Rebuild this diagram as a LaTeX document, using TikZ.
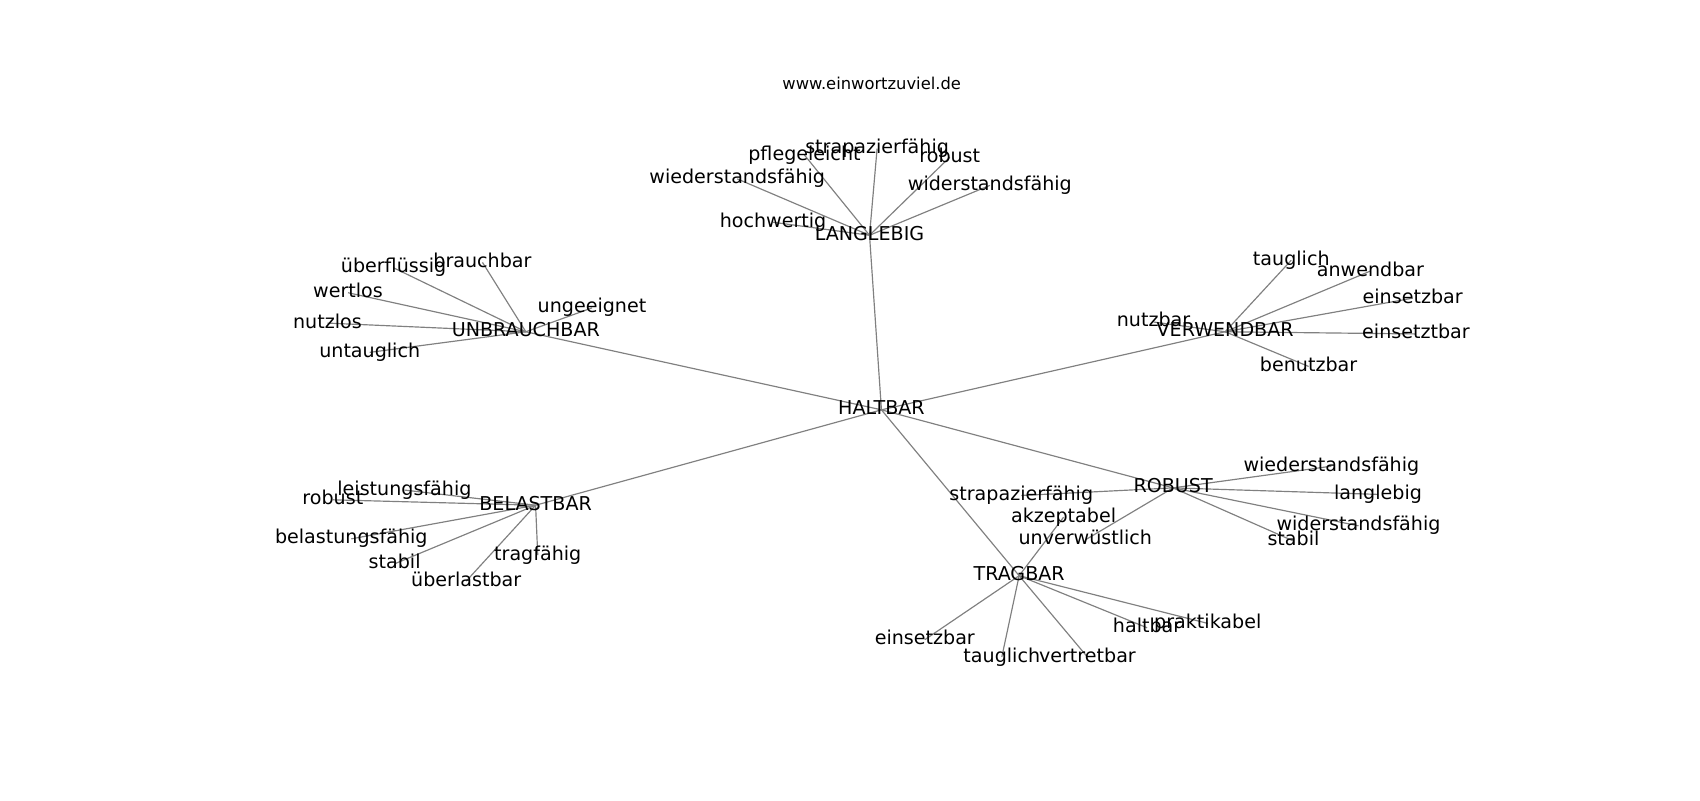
\documentclass[tikz,border=0pt]{standalone}
\usepackage{fontspec}
\setmainfont{DejaVu Sans}
\usetikzlibrary{backgrounds}

\begin{document}
\begin{tikzpicture}[x=0.27538mm,y=-0.27538mm,
	word/.style={inner sep=0pt,text height=0.76em,text depth=0.04em,font=\fontsize{13.8}{16}\selectfont},
	link/.style={black!50,line width=0.85pt}]
	\useasboundingbox (0,0) rectangle (1568,738);
	\node (title) at (804,77) [inner sep=0pt,font=\fontsize{11.8}{14}\selectfont] {www.einwortzuviel.de};
	% centre and hubs
	\node (haltbar) at (813,378) [word] {HALTBAR};
	\node (langlebig) at (802,217) [word] {LANGLEBIG};
	\node (unbrauchbar) at (485,306) [word] {UNBRAUCHBAR};
	\node (verwendbar) at (1130,306) [word] {VERWENDBAR};
	\node (belastbar) at (494,466) [word] {BELASTBAR};
	\node (robust) at (1082,450) [word] {ROBUST};
	\node (tragbar) at (940,531) [word] {TRAGBAR};
	% LANGLEBIG
	\node (la1) at (742,143) [word] {pflegeleicht};
	\node (la2) at (809,137) [word] {strapazierfähig};
	\node (la3) at (876,145) [word] {robust};
	\node (la4) at (680,165) [word] {wiederstandsfähig};
	\node (la5) at (913,171) [word] {widerstandsfähig};
	\node (la6) at (713,205) [word] {hochwertig};
	% UNBRAUCHBAR
	\node (un1) at (363,247) [word] {überflüssig};
	\node (un2) at (445,242) [word] {brauchbar};
	\node (un3) at (321,270) [word] {wertlos};
	\node (un4) at (302,298) [word] {nutzlos};
	\node (un5) at (341,325) [word] {untauglich};
	\node (un6) at (546,284) [word] {ungeeignet};
	% VERWENDBAR
	\node (ve1) at (1191,240) [word] {tauglich};
	\node (ve2) at (1264,250) [word] {anwendbar};
	\node (ve3) at (1303,275) [word] {einsetzbar};
	\node (ve4) at (1306,308) [word] {einsetztbar};
	\node (ve5) at (1207,338) [word] {benutzbar};
	\node (ve6) at (1064,297) [word] {nutzbar};
	% BELASTBAR
	\node (be1) at (373,452) [word] {leistungsfähig};
	\node (be2) at (307,461) [word] {robust};
	\node (be3) at (324,497) [word] {belastungsfähig};
	\node (be4) at (364,520) [word] {stabil};
	\node (be5) at (430,536) [word] {überlastbar};
	\node (be6) at (496,512) [word] {tragfähig};
	% ROBUST
	\node (ro1) at (1228,430) [word] {wiederstandsfähig};
	\node (ro2) at (1271,456) [word] {langlebig};
	\node (ro3) at (1253,485) [word] {widerstandsfähig};
	\node (ro4) at (1193,499) [word] {stabil};
	\node (ro5) at (942,457) [word] {strapazierfähig};
	\node (ro6) at (1001,498) [word] {unverwüstlich};
	% TRAGBAR
	\node (tr1) at (981,477) [word] {akzeptabel};
	\node (tr2) at (853,590) [word] {einsetzbar};
	\node (tr3) at (924,606) [word] {tauglich};
	\node (tr4) at (1003,606) [word] {vertretbar};
	\node (tr5) at (1058,579) [word] {haltbar};
	\node (tr6) at (1114,575) [word] {praktikabel};
	\begin{scope}[on background layer]
	\draw[link] (haltbar.center) -- (langlebig.center);
	\draw[link] (haltbar.center) -- (unbrauchbar.center);
	\draw[link] (haltbar.center) -- (verwendbar.center);
	\draw[link] (haltbar.center) -- (belastbar.center);
	\draw[link] (haltbar.center) -- (robust.center);
	\draw[link] (haltbar.center) -- (tragbar.center);
	\draw[link] (langlebig.center) -- (la1.center);
	\draw[link] (langlebig.center) -- (la2.center);
	\draw[link] (langlebig.center) -- (la3.center);
	\draw[link] (langlebig.center) -- (la4.center);
	\draw[link] (langlebig.center) -- (la5.center);
	\draw[link] (langlebig.center) -- (la6.center);
	\draw[link] (unbrauchbar.center) -- (un1.center);
	\draw[link] (unbrauchbar.center) -- (un2.center);
	\draw[link] (unbrauchbar.center) -- (un3.center);
	\draw[link] (unbrauchbar.center) -- (un4.center);
	\draw[link] (unbrauchbar.center) -- (un5.center);
	\draw[link] (unbrauchbar.center) -- (un6.center);
	\draw[link] (verwendbar.center) -- (ve1.center);
	\draw[link] (verwendbar.center) -- (ve2.center);
	\draw[link] (verwendbar.center) -- (ve3.center);
	\draw[link] (verwendbar.center) -- (ve4.center);
	\draw[link] (verwendbar.center) -- (ve5.center);
	\draw[link] (verwendbar.center) -- (ve6.center);
	\draw[link] (belastbar.center) -- (be1.center);
	\draw[link] (belastbar.center) -- (be2.center);
	\draw[link] (belastbar.center) -- (be3.center);
	\draw[link] (belastbar.center) -- (be4.center);
	\draw[link] (belastbar.center) -- (be5.center);
	\draw[link] (belastbar.center) -- (be6.center);
	\draw[link] (robust.center) -- (ro1.center);
	\draw[link] (robust.center) -- (ro2.center);
	\draw[link] (robust.center) -- (ro3.center);
	\draw[link] (robust.center) -- (ro4.center);
	\draw[link] (robust.center) -- (ro5.center);
	\draw[link] (robust.center) -- (ro6.center);
	\draw[link] (tragbar.center) -- (tr1.center);
	\draw[link] (tragbar.center) -- (tr2.center);
	\draw[link] (tragbar.center) -- (tr3.center);
	\draw[link] (tragbar.center) -- (tr4.center);
	\draw[link] (tragbar.center) -- (tr5.center);
	\draw[link] (tragbar.center) -- (tr6.center);
	\end{scope}
\end{tikzpicture}
\end{document}
